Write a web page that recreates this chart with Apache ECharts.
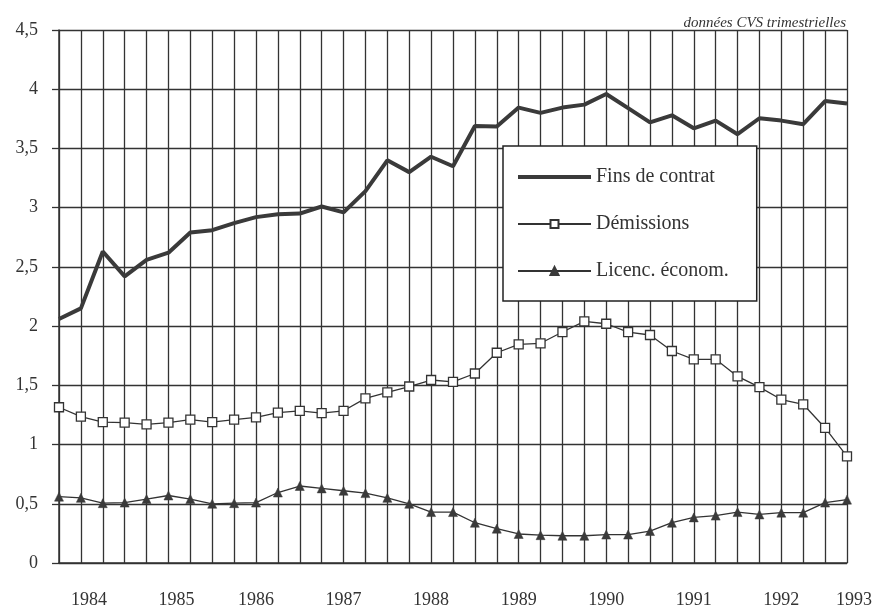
<!DOCTYPE html>
<html>
<head>
<meta charset="utf-8">
<script src="https://cdn.jsdelivr.net/npm/echarts@6/dist/echarts.min.js"></script>
<style>html,body{margin:0;padding:0;background:#fff}#c{width:875px;height:609px}</style>
</head>
<body>
<div id="c"></div>
<script>
// Quarterly data, 1983 T4 .. 1992 T4
const quarters = [];
for (let y = 1983; y <= 1992; y++) {
  for (let q = 1; q <= 4; q++) {
    if (y === 1983 && q < 4) continue;
    quarters.push(y + '-T' + q);
  }
}
const finsDeContrat = [2.06,2.15,2.63,2.42,2.56,2.62,2.79,2.81,2.87,2.92,2.945,2.95,3.01,2.96,3.14,3.40,3.30,3.43,3.35,3.69,3.685,3.845,3.80,3.845,3.87,3.96,3.84,3.72,3.78,3.67,3.735,3.62,3.755,3.735,3.705,3.90,3.88];
const demissions = [1.315,1.235,1.19,1.185,1.17,1.185,1.21,1.19,1.21,1.23,1.27,1.285,1.265,1.285,1.39,1.44,1.49,1.545,1.53,1.60,1.775,1.845,1.855,1.95,2.04,2.02,1.95,1.925,1.79,1.72,1.72,1.575,1.485,1.38,1.34,1.14,0.90];
const licencEconom = [0.56,0.55,0.505,0.51,0.54,0.57,0.54,0.50,0.505,0.51,0.595,0.65,0.63,0.61,0.59,0.55,0.50,0.43,0.43,0.34,0.29,0.245,0.235,0.23,0.23,0.24,0.24,0.27,0.34,0.385,0.40,0.43,0.41,0.425,0.425,0.51,0.535];
// Year labels: shown at the first quarter of each year, plus 1993 at the end
const yearTickIndex = [1,5,9,13,17,21,25,29,33,36];
const yearTickLabels = ['1984','1985','1986','1987','1988','1989','1990','1991','1992','1993'];
const yTicks = ['0','0,5','1','1,5','2','2,5','3','3,5','4','4,5'];

const ink = '#333';
const serif = '"Liberation Serif", "DejaVu Serif", serif';
const chart = echarts.init(document.getElementById('c'), null, {renderer: 'canvas'});
chart.setOption({
  backgroundColor: '#fff',
  animation: false,
  title: {
    text: 'données CVS trimestrielles',
    right: 24, top: 11,
    textStyle: {fontFamily: serif, fontStyle: 'italic', fontWeight: 'normal', fontSize: 15, color: ink}
  },
  grid: {left: 59, right: 27, top: 30, bottom: 46, containLabel: false},
  xAxis: {
    type: 'category',
    data: quarters,
    boundaryGap: false,
    axisLine: {show: true, lineStyle: {color: ink, width: 1.5}},
    axisTick: {show: false},
    splitLine: {show: true, interval: 0, lineStyle: {color: ink, width: 1.3}},
    axisLabel: {
      interval: (idx) => yearTickIndex.indexOf(idx) >= 0,
      formatter: (val, idx) => {
        const k = yearTickIndex.indexOf(idx);
        if (k < 0) return '';
        if (k <= 1) return '{a|' + yearTickLabels[k] + '}';
        if (k === yearTickLabels.length - 1) return '{b|' + yearTickLabels[k] + '}';
        return yearTickLabels[k];
      },
      rich: {
        a: {fontFamily: serif, fontSize: 18, color: ink, padding: [0, 0, 0, 16]},
        b: {fontFamily: serif, fontSize: 18, color: ink, padding: [0, 0, 0, 14]}
      },
      margin: 28,
      fontFamily: serif, fontSize: 18, color: ink
    }
  },
  yAxis: {
    type: 'value',
    min: 0, max: 4.5, interval: 0.5,
    axisLine: {show: true, lineStyle: {color: ink, width: 1.5}},
    axisTick: {show: true, inside: false, length: 7, lineStyle: {color: ink, width: 1.3}},
    splitLine: {show: true, lineStyle: {color: ink, width: 1.3}},
    axisLabel: {
      formatter: (v) => yTicks[Math.round(v * 2)],
      margin: 21,
      fontFamily: serif, fontSize: 18, color: ink
    }
  },
  legend: {
    orient: 'vertical',
    left: 503, top: 146,
    backgroundColor: '#fff',
    borderColor: '#222', borderWidth: 1.5,
    padding: [21, 28, 20, 13],
    itemWidth: 73, itemHeight: 10, itemGap: 27,
    textStyle: {fontFamily: serif, fontSize: 20, color: ink},
    data: [
      {name: 'Fins de contrat', itemStyle: {opacity: 0}, lineStyle: {width: 4, color: '#3a3a3a'}},
      {name: 'Démissions'},
      {name: 'Licenc. économ.'}
    ]
  },
  series: [
    {
      name: 'Fins de contrat', type: 'line', data: finsDeContrat,
      symbol: 'none', showSymbol: false,
      lineStyle: {color: '#3a3a3a', width: 4},
      itemStyle: {color: '#3a3a3a'},
      z: 3
    },
    {
      name: 'Démissions', type: 'line', data: demissions,
      symbol: 'rect', symbolSize: 9,
      lineStyle: {color: ink, width: 1.3},
      itemStyle: {color: '#fff', borderColor: ink, borderWidth: 1.3},
      z: 4
    },
    {
      name: 'Licenc. économ.', type: 'line', data: licencEconom,
      symbol: 'triangle', symbolSize: 9,
      lineStyle: {color: ink, width: 1.3},
      itemStyle: {color: '#3a3a3a', borderColor: '#3a3a3a', borderWidth: 0.5},
      z: 4
    }
  ]
});
</script>
</body>
</html>
